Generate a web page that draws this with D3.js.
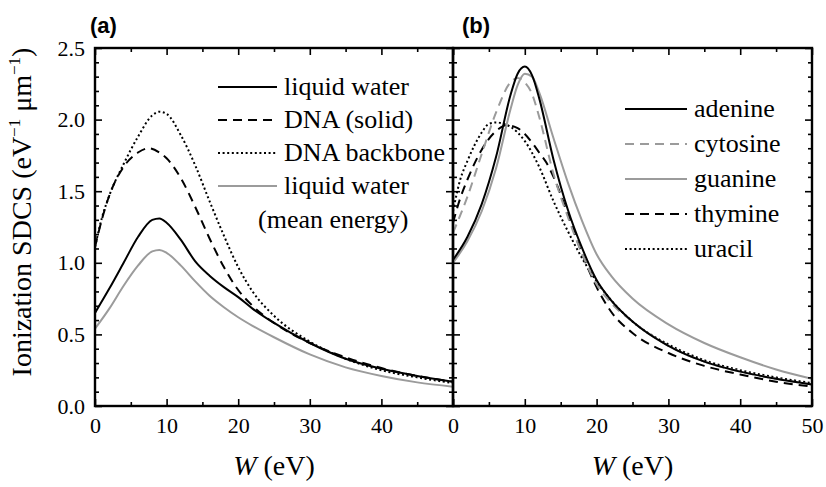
<!DOCTYPE html>
<html>
<head>
<meta charset="utf-8">
<script src="https://cdn.jsdelivr.net/npm/d3@7"></script>
<style>
  body { margin: 0; background: #fff; }
  text { font-family: "Liberation Serif", "Times New Roman", Times, serif; fill: #000; }
</style>
</head>
<body>
<svg id="chart" width="826" height="487" viewBox="0 0 826 487"></svg>
<script>
// ionization SDCS vs energy transfer W (eV), values as [W, SDCS]
const liquidWater = [[0,0.65],[2,0.82],[4,1.00],[6,1.18],[8,1.30],[9,1.31],[10,1.28],[12,1.16],[14,1.01],[16,0.91],[18,0.83],[20,0.76],[22,0.68],[25,0.58],[30,0.44],[35,0.33],[40,0.26],[45,0.21],[50,0.17]]
const dnaSolid = [[0,1.11],[1,1.31],[2,1.47],[4,1.67],[6,1.77],[7.5,1.80],[9,1.77],[10,1.73],[12,1.59],[14,1.39],[16,1.17],[18,0.97],[20,0.81],[22,0.70],[25,0.58],[30,0.44],[35,0.34],[40,0.265],[45,0.21],[50,0.17]]
const dnaBackbone = [[0,1.11],[1,1.32],[2,1.47],[4,1.69],[6,1.88],[8,2.03],[9,2.055],[10,2.04],[12,1.89],[14,1.68],[16,1.43],[18,1.19],[20,0.97],[22,0.80],[25,0.63],[30,0.45],[35,0.33],[40,0.25],[45,0.20],[50,0.16]]
const liquidWaterMean = [[0,0.54],[2,0.68],[4,0.84],[6,0.98],[8,1.08],[9,1.09],[10,1.07],[12,0.98],[14,0.87],[16,0.77],[18,0.69],[20,0.62],[22,0.56],[25,0.48],[30,0.36],[35,0.27],[40,0.21],[45,0.165],[50,0.135]]

const adenine = [[0,1.02],[2,1.18],[4,1.41],[6,1.74],[8,2.17],[9,2.32],[10,2.37],[11,2.31],[12,2.15],[14,1.72],[16,1.37],[18,1.10],[20,0.88],[22,0.74],[25,0.59],[30,0.42],[35,0.31],[40,0.24],[45,0.19],[50,0.15]]
const cytosine = [[0,1.21],[2,1.46],[4,1.76],[6,2.05],[8,2.26],[9,2.29],[10,2.26],[11,2.18],[12,2.02],[14,1.62],[16,1.32],[18,1.06],[20,0.85],[22,0.72],[25,0.59],[30,0.42],[35,0.31],[40,0.24],[45,0.19],[50,0.15]]
const guanine = [[0,1.00],[2,1.15],[4,1.36],[6,1.66],[8,2.07],[9,2.24],[10,2.32],[11,2.30],[12,2.19],[14,1.87],[16,1.56],[18,1.29],[20,1.06],[22,0.91],[25,0.75],[30,0.57],[35,0.44],[40,0.34],[45,0.255],[50,0.19]]
const thymine = [[0,1.28],[1,1.45],[2,1.58],[4,1.79],[6,1.92],[7.5,1.96],[9,1.94],[10,1.90],[11,1.84],[12,1.77],[13,1.70],[14,1.60],[16,1.34],[18,1.06],[20,0.83],[22,0.66],[25,0.51],[30,0.37],[35,0.28],[40,0.22],[45,0.17],[50,0.135]]
const uracil = [[0,1.36],[1,1.58],[2,1.71],[4,1.91],[5,1.97],[6,1.98],[8,1.95],[10,1.85],[12,1.67],[14,1.43],[16,1.22],[18,1.03],[20,0.87],[22,0.74],[25,0.59],[30,0.43],[35,0.32],[40,0.25],[45,0.20],[50,0.16]]

const xMajor = [0,10,20,30,40,50]
const xMinor = [5,15,25,35,45]
const yMajor = [0,0.5,1.0,1.5,2.0,2.5]
const yMinor = d3.range(1,25).filter(i => i % 5 != 0).map(i => i/10)

const SERIF = '"Liberation Serif", "Times New Roman", Times, serif'

// line styles
const GRAY = "#9b9b9b"
const solidBlack = {color:"#000", dash:null}
const dashedBlack = {color:"#000", dash:"9,6"}
const dottedBlack = {color:"#000", dash:"2,2.6"}
const solidGray = {color:GRAY, dash:null}
const dashedGray = {color:GRAY, dash:"9,6"}

const panelA = [
    {label:"liquid water", data:liquidWater, style:solidBlack},
    {label:"DNA (solid)", data:dnaSolid, style:dashedBlack},
    {label:"DNA backbone", data:dnaBackbone, style:dottedBlack},
    {label:"liquid water", data:liquidWaterMean, style:solidGray, extra:"(mean energy)"}
]
const panelB = [
    {label:"adenine", data:adenine, style:solidBlack},
    {label:"cytosine", data:cytosine, style:dashedGray},
    {label:"guanine", data:guanine, style:solidGray},
    {label:"thymine", data:thymine, style:dashedBlack},
    {label:"uracil", data:uracil, style:dottedBlack}
]

const svg = d3.select("#chart")
const y = d3.scaleLinear().domain([0,2.5]).range([406,48])
const xA = d3.scaleLinear().domain([0,50]).range([95,453])
const xB = d3.scaleLinear().domain([0,50]).range([453,812])

function drawPanel(x, series, id, opts)
{
    const g = svg.append("g")
    const [x0, x1] = x.range()

    g.append("clipPath").attr("id", "clip"+id)
        .append("rect")
        .attr("x", x0).attr("y", y(2.5))
        .attr("width", x1-x0).attr("height", y(0)-y(2.5))

    const line = d3.line()
        .x(d => x(d[0]))
        .y(d => y(d[1]))
        .curve(d3.curveMonotoneX)

    // draw back to front so the black lines sit on top
    g.append("g").attr("clip-path", `url(#clip${id})`)
        .selectAll("path")
        .data(series.slice().reverse())
        .enter()
        .append("path")
        .attr("d", d => line(d.data))
        .attr("fill", "none")
        .attr("stroke", d => d.style.color)
        .attr("stroke-width", 2)
        .attr("stroke-dasharray", d => d.style.dash)

    // ticks pointing inward on all four sides
    const sides = [
        [d3.axisBottom(x), `translate(0,${y(0)})`, xMajor, xMinor],
        [d3.axisTop(x), `translate(0,${y(2.5)})`, xMajor, xMinor],
        [d3.axisLeft(y), `translate(${x0},0)`, yMajor, yMinor],
        [d3.axisRight(y), `translate(${x1},0)`, yMajor, yMinor]
    ]
    sides.forEach(([axis, tr, major, minor], i) => {
        let fmt = ""
        if (i == 0) fmt = d => (opts.hide50 && d == 50) ? "" : d
        if (i == 2 && opts.yLabels) fmt = d3.format(".1f")
        const a = g.append("g").attr("transform", tr)
            .call(axis.tickValues(major).tickSize(-7).tickSizeOuter(0)
                .tickPadding(i == 0 ? 11 : 10).tickFormat(fmt))
        a.attr("font-family", SERIF).attr("font-size", 22)
        g.append("g").attr("transform", tr)
            .call(axis.tickValues(minor).tickSize(-4).tickFormat(""))
        g.selectAll(".domain").remove()
    })
    g.selectAll(".tick line").attr("stroke", "#000").attr("stroke-width", 1.6)

    g.append("rect")
        .attr("x", x0).attr("y", y(2.5))
        .attr("width", x1-x0).attr("height", y(0)-y(2.5))
        .attr("fill", "none").attr("stroke", "#000").attr("stroke-width", 2.4)

    // legend
    const leg = g.append("g").attr("font-family", SERIF).attr("font-size", 26)
    series.forEach((s, i) => {
        const ly = opts.legY + i*opts.legStep
        leg.append("line")
            .attr("x1", opts.legX).attr("x2", opts.legX + opts.legLen)
            .attr("y1", ly).attr("y2", ly)
            .attr("stroke", s.style.color)
            .attr("stroke-width", 2)
            .attr("stroke-dasharray", s.style.dash)
        leg.append("text")
            .attr("x", opts.legX + opts.legLen + 7).attr("y", ly + 8)
            .text(s.label)
        if (s.extra)
            leg.append("text")
                .attr("x", opts.legX + opts.legLen - 19).attr("y", ly + 42)
                .text(s.extra)
    })

    svg.append("text")
        .attr("x", (x0+x1)/2).attr("y", 475)
        .attr("text-anchor", "middle")
        .attr("font-family", SERIF)
        .attr("font-size", 28)
        .call(t => {
            t.append("tspan").style("font-style", "italic").text("W")
            t.append("tspan").text(" (eV)")
        })

    svg.append("text")
        .attr("x", x0 - 5 + (id == "b" ? 14 : 0)).attr("y", 33)
        .style("font-family", '"Liberation Sans", Arial, sans-serif')
        .style("font-weight", "bold")
        .style("font-size", "22px")
        .text(`(${id})`)
}

drawPanel(xA, panelA, "a", {hide50:true, yLabels:true, legX:218, legY:87, legStep:33, legLen:59})
drawPanel(xB, panelB, "b", {hide50:false, yLabels:false, legX:625, legY:109, legStep:35, legLen:62})

// y axis title
svg.append("text")
    .attr("transform", `translate(31,212) rotate(-90)`)
    .attr("text-anchor", "middle")
    .attr("font-family", SERIF)
    .attr("font-size", 28)
    .call(t => {
        t.append("tspan").text("Ionization SDCS (eV")
        t.append("tspan").attr("dy", -11).attr("font-size", 17).text("\u22121")
        t.append("tspan").attr("dy", 11).text(" \u03bcm")
        t.append("tspan").attr("dy", -11).attr("font-size", 17).text("\u22121")
        t.append("tspan").attr("dy", 11).text(")")
    })
</script>
</body>
</html>
